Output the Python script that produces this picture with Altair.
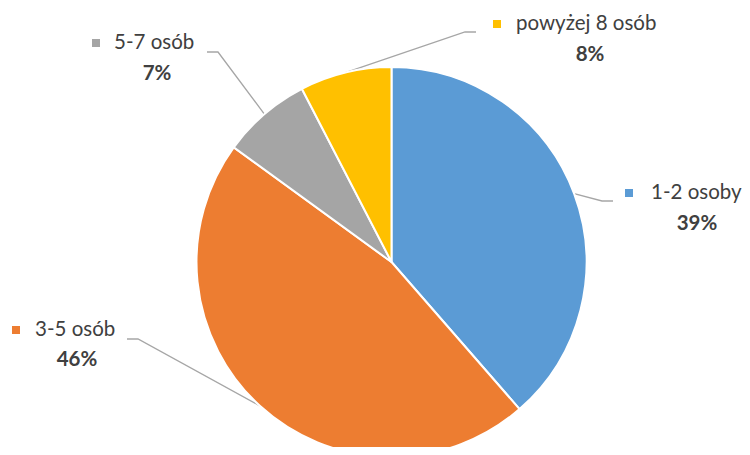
import altair as alt
import pandas as pd
import numpy as np

# ---- data ----
categories = ["1-2 osoby", "3-5 osób", "5-7 osób", "powyżej 8 osób"]
values = [38.6, 46.4, 7.4, 7.6]
colors = ["#5B9BD5", "#ED7D31", "#A5A5A5", "#FFC000"]

# ---- layout (chart pixel coords) ----
CX, CY, R = 383.5, 254, 195
W, H = 734, 439
elbow = [(594, 193), (130, 331), (210, 44), (457, 24)]
lend = [(605, 193), (119, 331), (199, 44), (468, 24)]
marker = [(621, 185), (8, 322), (88, 35), (489, 16)]
name_x = [643, 27, 106, 508]
pct_pos = [(689, 216), (69, 352), (149, 66), (582, 47)]

FONT = "Lato"
TXT = "#404040"

total = sum(values)
cum = np.cumsum([0] + values)
mid = [(cum[i] + cum[i + 1]) / 2 / total * 2 * np.pi for i in range(len(values))]

df = pd.DataFrame({"cat": categories, "val": values, "order": range(len(values))})
df["pct"] = [f"{int(v / total * 100 + 0.5)}%" for v in values]
df["mx"] = [m[0] for m in marker]
df["my"] = [m[1] for m in marker]
df["nx"] = name_x
df["px"] = [p[0] for p in pct_pos]
df["py"] = [p[1] for p in pct_pos]

rows = []
for i, c in enumerate(categories):
    sx = CX + R * np.sin(mid[i])
    sy = CY - R * np.cos(mid[i])
    rows.append({"cat": c, "k": 0, "x": sx, "y": sy})
    rows.append({"cat": c, "k": 1, "x": elbow[i][0], "y": elbow[i][1]})
    rows.append({"cat": c, "k": 2, "x": lend[i][0], "y": lend[i][1]})
lines = pd.DataFrame(rows)

xs = alt.Scale(domain=[0, W], range=[0, W])
ys = alt.Scale(domain=[0, H], range=[0, H])
color = alt.Color("cat:N", scale=alt.Scale(domain=categories, range=colors), legend=None)

pie = alt.Chart(df).mark_arc(stroke="white", strokeWidth=2).encode(
    theta=alt.Theta("val:Q", stack=True),
    order=alt.Order("order:Q"),
    color=color,
    x=alt.value(CX),
    y=alt.value(CY),
    radius=alt.value(R),
)

leader = alt.Chart(lines).mark_line(color="#A6A6A6", strokeWidth=1.3).encode(
    x=alt.X("x:Q", scale=xs, axis=None),
    y=alt.Y("y:Q", scale=ys, axis=None),
    detail="cat:N",
    order="k:Q",
)

sq = alt.Chart(df).mark_square(size=64, opacity=1).encode(
    x=alt.X("mx:Q", scale=xs, axis=None),
    y=alt.Y("my:Q", scale=ys, axis=None),
    color=color,
)

names = alt.Chart(df).mark_text(
    align="left", baseline="middle", font=FONT, fontSize=20.5, color=TXT
).encode(
    x=alt.X("nx:Q", scale=xs, axis=None),
    y=alt.Y("my:Q", scale=ys, axis=None),
    text="cat:N",
)

pcts = alt.Chart(df).mark_text(
    align="center", baseline="middle", font=FONT, fontSize=20.5, fontWeight="bold", color=TXT
).encode(
    x=alt.X("px:Q", scale=xs, axis=None),
    y=alt.Y("py:Q", scale=ys, axis=None),
    text="pct:N",
)

chart = alt.layer(leader, pie, sq, names, pcts).properties(
    width=W, height=H, autosize=alt.AutoSizeParams(type="none"), padding=0
).configure_view(stroke=None)

chart.save("out.html", embed_options={"renderer": "svg", "actions": False})
